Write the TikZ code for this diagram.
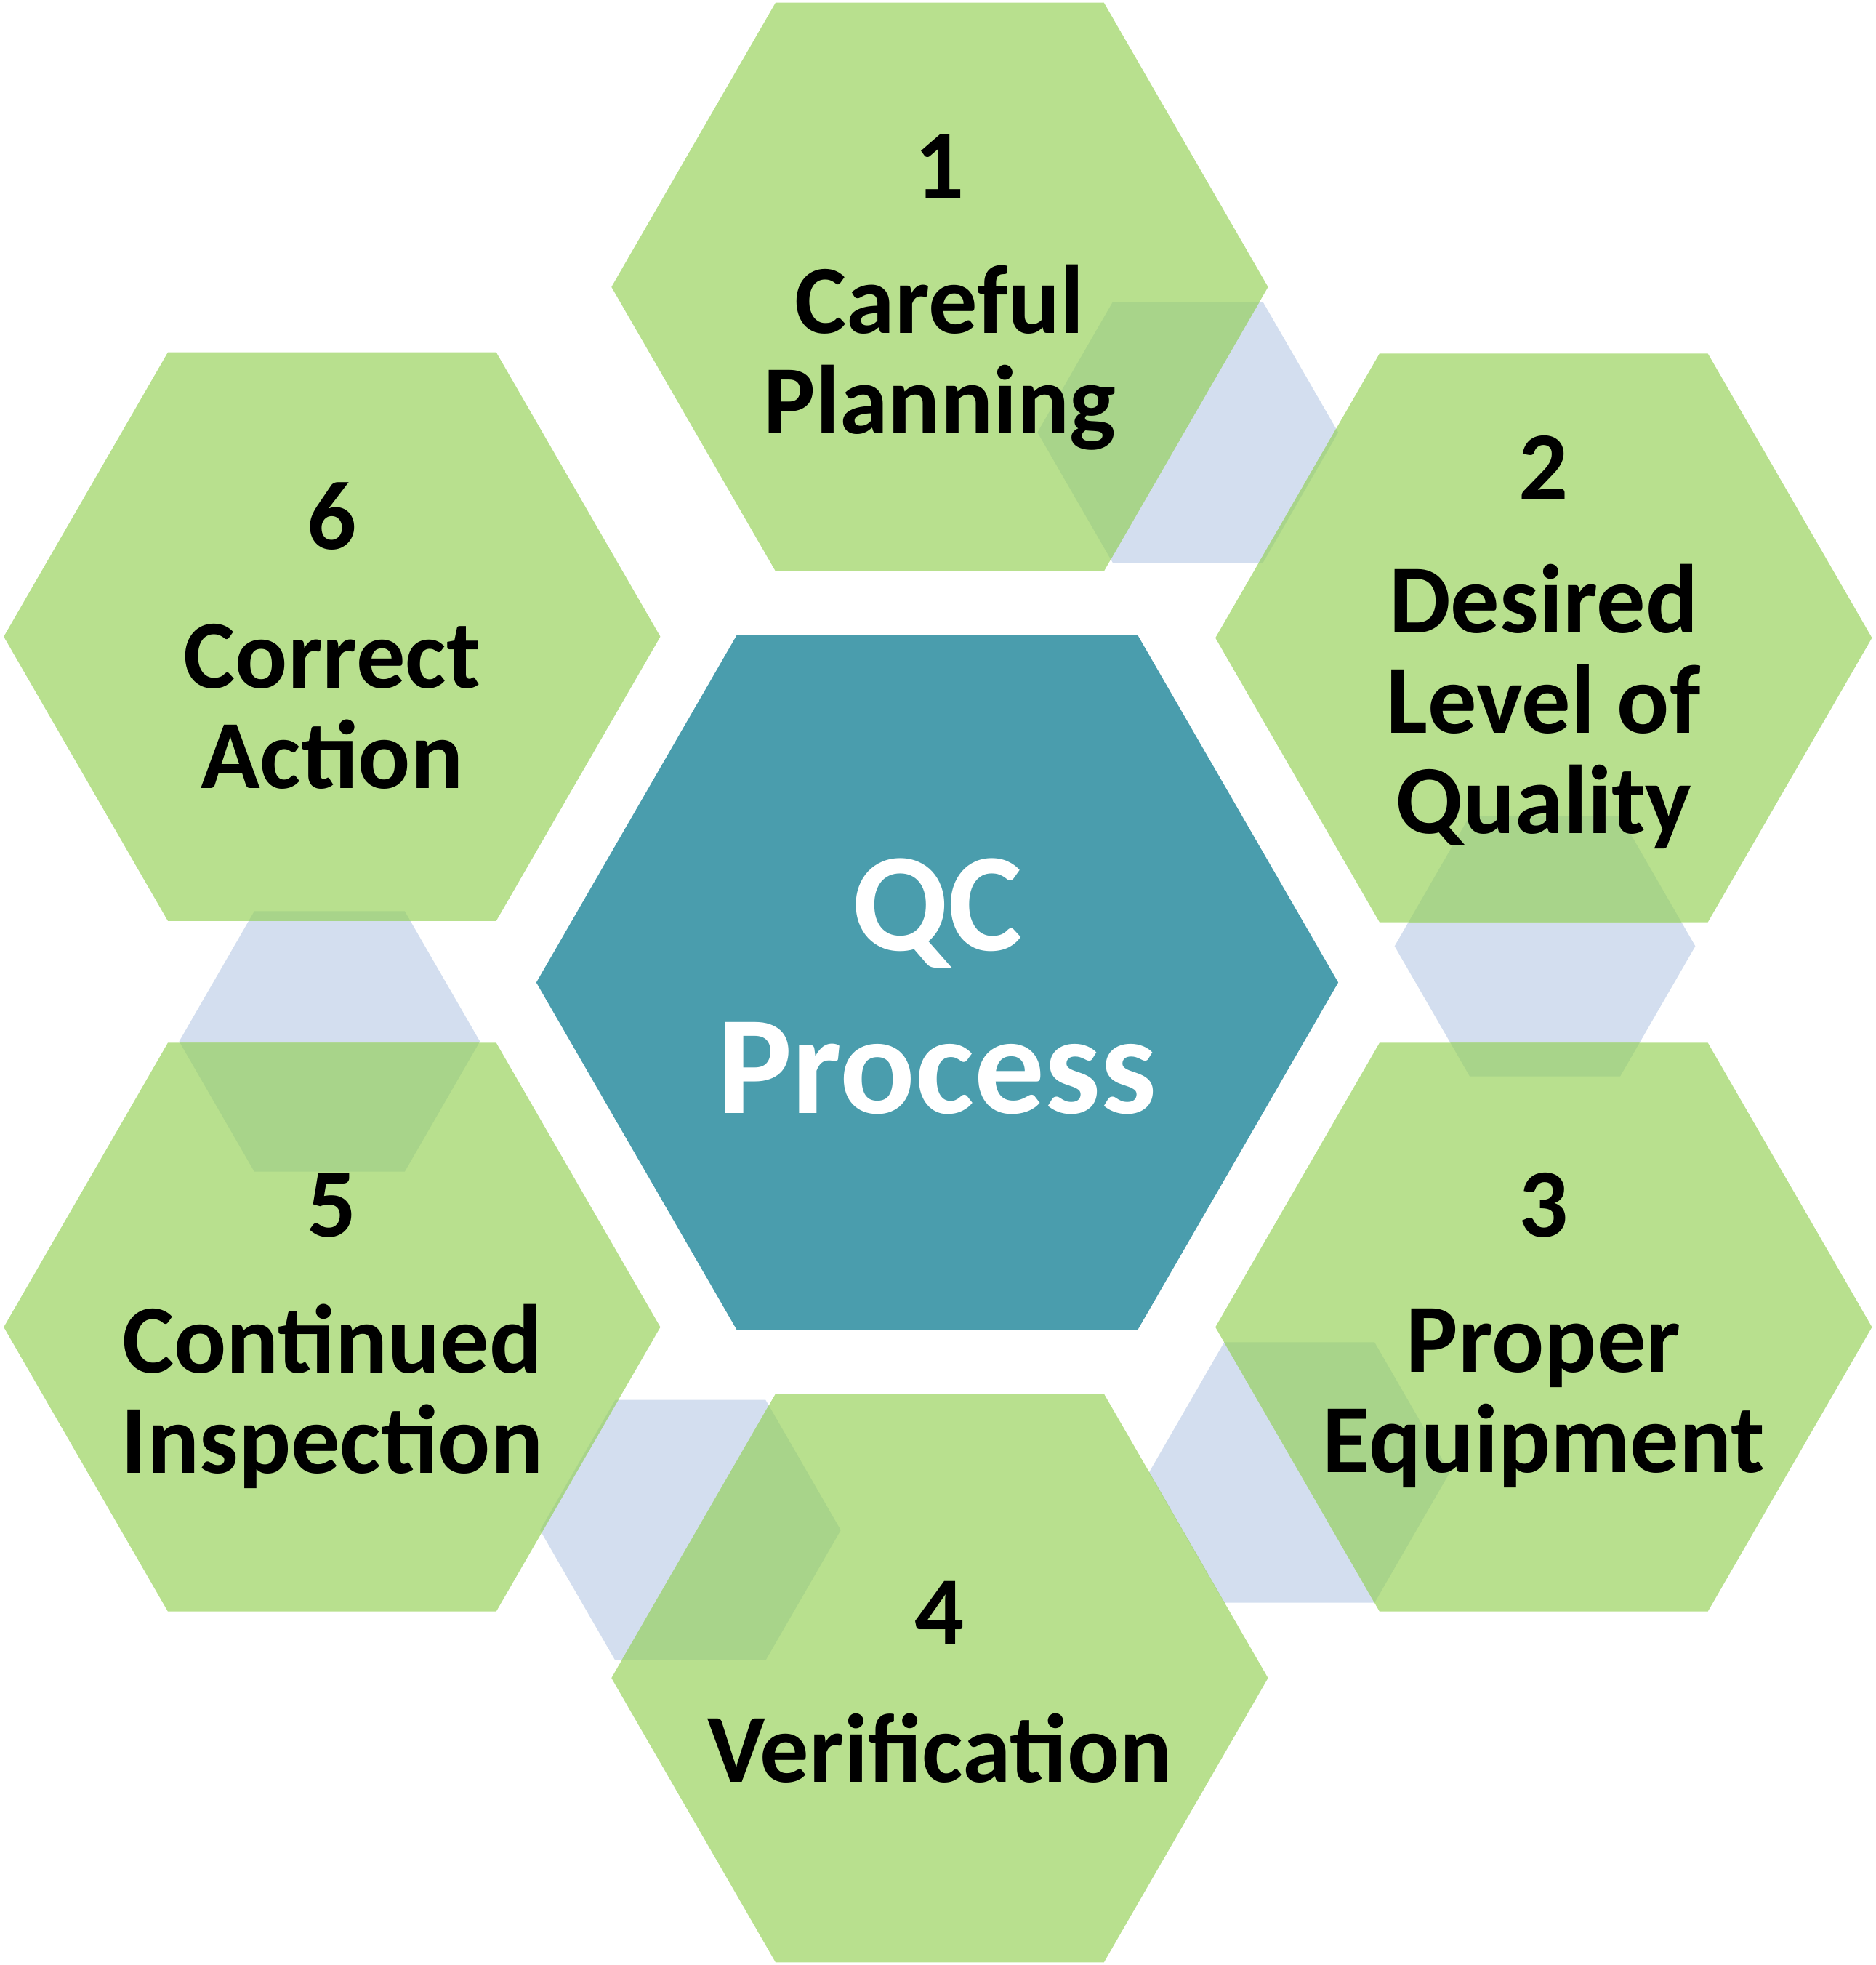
\documentclass[tikz,border=0pt]{standalone}
\usepackage{fontspec}
\setmainfont{Carlito}
\definecolor{hexgreen}{HTML}{B8E08E}
\definecolor{hexblue}{HTML}{D3DEEF}
\definecolor{hexover}{HTML}{A8D48A}
\definecolor{hexteal}{HTML}{4A9DAD}
\newcommand\hexp[3]{({#1+#3},{#2}) -- ({#1+#3/2},{#2+0.866*#3}) -- ({#1-#3/2},{#2+0.866*#3}) -- ({#1-#3},{#2}) -- ({#1-#3/2},{#2-0.866*#3}) -- ({#1+#3/2},{#2-0.866*#3}) -- cycle}
\tikzset{lbl/.style={font=\bfseries\fontsize{39}{40}\selectfont,align=center,text=black,inner sep=0pt},
big/.style={font=\bfseries\fontsize{56}{65}\selectfont,align=center,text=white,inner sep=0pt}}
\begin{document}
\begin{tikzpicture}[x=0.5pt,y=-0.5pt]
\useasboundingbox (0,0) rectangle (1497,1568);
% connectors
\foreach \cx/\cy in {948/345,1233/755,1037/1175,551/1221,263/831}{
  \fill[hexblue] \hexp{\cx}{\cy}{120};
}
% green hexes
\foreach \cx/\cy in {750/229,1232/509,1232/1059,750/1339,265/1059,265/508}{
  \fill[hexgreen] \hexp{\cx}{\cy}{262};
}
% overlaps
\foreach \cx/\cy in {948/345,1233/755,1037/1175,551/1221,263/831}{
  \begin{scope}
  \clip \hexp{\cx}{\cy}{120};
  \foreach \hx/\hy in {750/229,1232/509,1232/1059,750/1339,265/1059,265/508}{
    \fill[hexover] \hexp{\hx}{\hy}{262};
  }
  \end{scope}
}
\fill[hexteal] \hexp{748}{784}{320};
% texts
\node[big] (qc) at (748,787) {QC\\Process};
\node[lbl] (n1) at (750,133) {1};
\node[lbl] (t1) at (750,285) {Careful\\Planning};
\node[lbl] (n2) at (1232,373) {2};
\node[lbl] (t2) at (1232,564) {Desired\\Level of\\Quality};
\node[lbl] (n3) at (1232,962) {3};
\node[lbl] (t3) at (1232,1116) {Proper\\Equipment};
\node[lbl] (n4) at (750,1287) {4};
\node[lbl] (t4) at (750,1395) {Verification};
\node[lbl] (n5) at (265,962) {5};
\node[lbl] (t5) at (265,1114) {Continued\\Inspection};
\node[lbl] (n6) at (265,412) {6};
\node[lbl] (t6) at (265,564) {Correct\\Action};
\end{tikzpicture}
\end{document}
